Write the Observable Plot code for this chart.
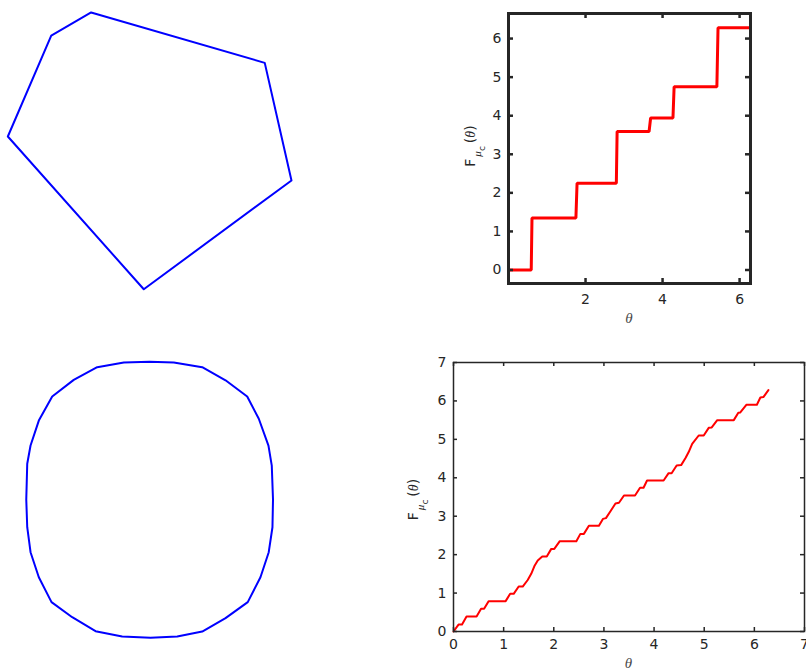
<!DOCTYPE html>
<html>
<head>
<meta charset="utf-8">
<script src="https://cdn.jsdelivr.net/npm/d3@7"></script>
<script src="https://cdn.jsdelivr.net/npm/@observablehq/plot@0.6"></script>
<style>
  html, body { margin: 0; padding: 0; background: #fff; overflow: hidden; }
  #page { position: relative; width: 806px; height: 671px; background: #fff; }
  .panel { position: absolute; }
</style>
</head>
<body>
<div id="page">
  <div class="panel" id="p1" style="left:0px;top:0px"></div>
  <div class="panel" id="p2" style="left:450px;top:0px"></div>
  <div class="panel" id="p3" style="left:0px;top:340px"></div>
  <div class="panel" id="p4" style="left:400px;top:350px"></div>
</div>
<script>
// ---- Data ----
// Polygon (top-left), vertex coordinates
const polyX = [-1.019, -0.709, -0.424, 0.816, 1.007, -0.048];
const polyY = [0.100, 0.821, 0.986, 0.626, -0.214, -0.991];

// Rounded convex curve (bottom-left)
const roundX = [0, 0.176, 0.382, 0.551, 0.708, 0.792, 0.862, 0.886, 0.895,
  0.891, 0.864, 0.804, 0.712, 0.551, 0.382, 0.201, 0.007,
  -0.198, -0.391, -0.560, -0.710, -0.802, -0.862, -0.886, -0.893,
  -0.886, -0.862, -0.802, -0.705, -0.549, -0.379, -0.186];
const roundY = [0.998, 0.993, 0.959, 0.864, 0.746, 0.585, 0.391, 0.246, 0,
  -0.201, -0.382, -0.563, -0.744, -0.860, -0.957, -0.993, -1.002,
  -0.993, -0.954, -0.853, -0.744, -0.563, -0.382, -0.201, 0,
  0.259, 0.391, 0.572, 0.746, 0.867, 0.959, 0.993];

// F_mu_c(theta) for the polygon (top-right)
const stepTheta = [0, 0.59, 0.61, 1.75, 1.78, 2.80, 2.82, 3.65, 3.69, 4.27, 4.30, 5.41, 5.44, 6.283];
const stepF     = [0, 0, 1.35, 1.35, 2.25, 2.25, 3.59, 3.59, 3.94, 3.94, 4.75, 4.75, 6.28, 6.28];

// F_mu_c(theta) for the rounded curve (bottom-right)
const fineTheta = [0, 0.10, 0.17, 0.26, 0.46, 0.55, 0.61, 0.70, 1.04, 1.13, 1.20, 1.30, 1.38, 1.48, 1.55,
  1.62, 1.68, 1.77, 1.86, 1.95, 2.01, 2.12, 2.45, 2.53, 2.60, 2.70, 2.90, 2.98, 3.04, 3.14,
  3.23, 3.30, 3.40, 3.62, 3.72, 3.79, 3.86, 4.19, 4.29, 4.35, 4.45, 4.54, 4.63, 4.69, 4.76,
  4.89, 4.99, 5.09, 5.15, 5.26, 5.59, 5.68, 5.72, 5.84, 6.05, 6.12, 6.18, 6.28];
const fineF = [0, 0.18, 0.18, 0.39, 0.39, 0.59, 0.59, 0.79, 0.79, 0.98, 0.98, 1.17, 1.17, 1.34, 1.50,
  1.72, 1.85, 1.95, 1.95, 2.15, 2.15, 2.35, 2.35, 2.54, 2.54, 2.75, 2.75, 2.93, 2.95, 3.15,
  3.33, 3.35, 3.54, 3.54, 3.74, 3.74, 3.93, 3.93, 4.12, 4.12, 4.32, 4.33, 4.52, 4.67, 4.88,
  5.10, 5.10, 5.30, 5.31, 5.50, 5.50, 5.69, 5.70, 5.90, 5.90, 6.09, 6.10, 6.28];

// Tick values
const topXTicks = [2, 4, 6];
const topYTicks = [0, 1, 2, 3, 4, 5, 6];
const botXTicks = [0, 1, 2, 3, 4, 5, 6, 7];
const botYTicks = [0, 1, 2, 3, 4, 5, 6, 7];

const AXC = "#262626";
const FONT = "DejaVu Sans, sans-serif";
const FS = 14;

// ---- Panel 1: polygon ----
const p1 = Plot.plot({
  width: 300, height: 300,
  margin: 0,
  x: {domain: [-1.0714, 1.0714], axis: null},
  y: {domain: [-1.0714, 1.0714], axis: null},
  marks: [
    Plot.line(d3.range(polyX.length), {x: i => polyX[i], y: i => polyY[i], curve: "linear-closed", stroke: "#0000ff", strokeWidth: 2})
  ]
});
document.getElementById("p1").appendChild(p1);

// ---- Panel 3: rounded curve ----
const p3 = Plot.plot({
  width: 300, height: 331,
  margin: 0,
  x: {domain: [-1.0797, 1.0942], axis: null},
  y: {domain: [-1.2464, 1.1522], axis: null},
  marks: [
    Plot.line(d3.range(roundX.length), {x: i => roundX[i], y: i => roundY[i], curve: "linear-closed", stroke: "#0000ff", strokeWidth: 2})
  ]
});
document.getElementById("p3").appendChild(p3);

function insideTicks(xt, yt, innerW, innerH, len, sw) {
  return [
    Plot.tickX(xt, {x: d => d, insetTop: innerH - len, stroke: AXC, strokeWidth: sw}),
    Plot.tickX(xt, {x: d => d, insetBottom: innerH - len, stroke: AXC, strokeWidth: sw}),
    Plot.tickY(yt, {y: d => d, insetRight: innerW - len, stroke: AXC, strokeWidth: sw}),
    Plot.tickY(yt, {y: d => d, insetLeft: innerW - len, stroke: AXC, strokeWidth: sw})
  ];
}

function addYLabel(svg, cx, cy) {
  const t = d3.select(svg).append("text")
    .attr("transform", `translate(${cx},${cy}) rotate(-90)`)
    .attr("text-anchor", "middle")
    .attr("fill", AXC)
    .attr("font-family", FONT)
    .attr("font-size", 14);
  t.append("tspan").text("F");
  t.append("tspan").attr("dy", 6).attr("dx", 2).attr("font-size", 11)
    .attr("font-family", "Liberation Serif, serif").attr("font-style", "italic").text("μ");
  t.append("tspan").attr("dy", 4).attr("font-size", 9).text("c");
  t.append("tspan").attr("dy", -10).attr("dx", 3).text("(");
  t.append("tspan").attr("font-family", "Liberation Serif, serif").attr("font-style", "italic").text("θ");
  t.append("tspan").text(")");
}

function addXLabel(svg, cx, baseline) {
  d3.select(svg).append("text")
    .attr("x", cx).attr("y", baseline)
    .attr("text-anchor", "middle")
    .attr("fill", "#4a4a4a")
    .attr("font-family", "Liberation Serif, serif")
    .attr("font-style", "italic")
    .attr("font-size", 15)
    .text("θ");
}

// ---- Panel 2: step function (top-right) ----
{
  const W = 356, H = 340, mL = 58, mR = 56, mT = 13, mB = 57;
  const iW = W - mL - mR, iH = H - mT - mB;
  const p2 = Plot.plot({
    width: W, height: H,
    marginLeft: mL, marginRight: mR, marginTop: mT, marginBottom: mB,
    style: {color: AXC, fontFamily: FONT, fontSize: FS + "px", background: "transparent"},
    x: {domain: [0, 2 * Math.PI]},
    y: {domain: [-0.35, 6.65]},
    marks: [
      Plot.axisX(topXTicks, {tickSize: 0, tickPadding: 11, fontSize: FS, label: null}),
      Plot.axisY(topYTicks, {tickSize: 0, tickPadding: 7, fontSize: FS, label: null}),
      Plot.line(d3.range(stepTheta.length), {x: i => stepTheta[i], y: i => stepF[i], stroke: "#ff0000", strokeWidth: 3, strokeLinejoin: "miter", strokeLinecap: "butt"}),
      ...insideTicks(topXTicks, topYTicks, iW, iH, 5, 2.5),
      Plot.frame({stroke: AXC, strokeWidth: 3})
    ]
  });
  document.getElementById("p2").appendChild(p2);
  addYLabel(p2, mL - 33, mT + iH / 2 - 2);
  addXLabel(p2, mL + iW / 2, 323);
}

// ---- Panel 4: fine staircase (bottom-right) ----
{
  const W = 406, H = 321, mL = 53, mR = 2, mT = 12, mB = 40;
  const iW = W - mL - mR, iH = H - mT - mB;
  const p4 = Plot.plot({
    width: W, height: H,
    marginLeft: mL, marginRight: mR, marginTop: mT, marginBottom: mB,
    style: {color: AXC, fontFamily: FONT, fontSize: FS + "px", background: "transparent", overflow: "visible"},
    x: {domain: [0, 7]},
    y: {domain: [0, 7]},
    marks: [
      Plot.axisX(botXTicks, {tickSize: 0, tickPadding: 8, fontSize: FS, label: null}),
      Plot.axisY(botYTicks, {tickSize: 0, tickPadding: 7, fontSize: FS, label: null}),
      Plot.line(d3.range(fineTheta.length), {x: i => fineTheta[i], y: i => fineF[i], stroke: "#ff0000", strokeWidth: 2}),
      ...insideTicks(botXTicks, botYTicks, iW, iH, 4, 1.5),
      Plot.frame({stroke: AXC, strokeWidth: 1.5})
    ]
  });
  document.getElementById("p4").appendChild(p4);
  addYLabel(p4, mL - 35, mT + iH / 2 + 3);
  addXLabel(p4, mL + iW / 2, 318);
}
</script>
</body>
</html>
